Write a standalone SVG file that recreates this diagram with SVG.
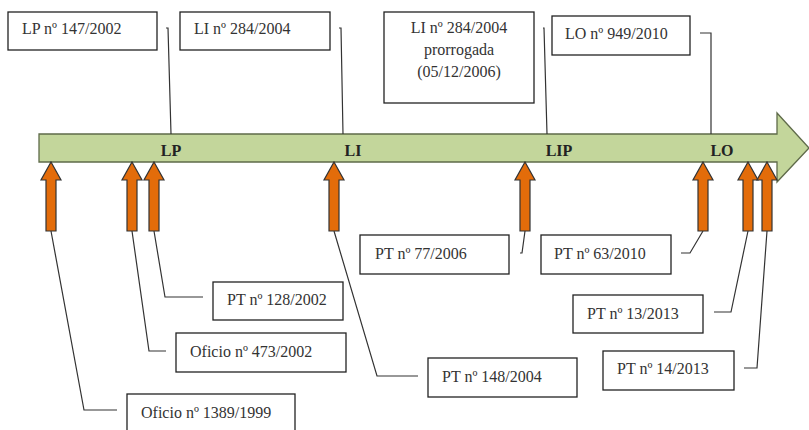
<svg xmlns="http://www.w3.org/2000/svg" width="809" height="430" viewBox="0 0 809 430">
<style>
.box{fill:#fff;stroke:#222;stroke-width:1.3}
.t{font-family:"Liberation Serif","Times New Roman",serif;font-size:16px;fill:#333}
.lbl{font-family:"Liberation Serif","Times New Roman",serif;font-size:16px;font-weight:bold;fill:#222}
.con{fill:none;stroke:#333;stroke-width:1.2}
.up{fill:#e36c0a;stroke:#333;stroke-width:1.2}
</style>
<defs>
<path id="upArrow" class="up" d="M0,0 L10,18 L5,18 L5,69 L-5,69 L-5,18 L-10,18 Z"/>
</defs>
<g id="timeline">
<path d="M39,134 L777,134 L777,113 L809,148 L777,182 L777,162 L39,162 Z" fill="#c3d69b" stroke="#5f6b4a" stroke-width="1.3"/>
<text class="lbl" x="171" y="156" text-anchor="middle">LP</text>
<text class="lbl" x="353" y="156" text-anchor="middle">LI</text>
<text class="lbl" x="559" y="156" text-anchor="middle">LIP</text>
<text class="lbl" x="722" y="156" text-anchor="middle">LO</text>
</g>
<g id="connectors">
<path class="con" d="M166,28 L168,28 L171,134"/>
<path class="con" d="M339,28 L341,28 L343,134"/>
<path class="con" d="M543,28 L544,28 L547,134"/>
<path class="con" d="M700,33 L711,33 L711,134"/>
<path class="con" d="M51,231 L84,410 L117,410"/>
<path class="con" d="M132,231 L149,351 L166,351"/>
<path class="con" d="M154,231 L165,297 L203,297"/>
<path class="con" d="M334,231 L377,376 L418,376"/>
<path class="con" d="M525,231 L522,253 L520,253"/>
<path class="con" d="M703,231 L690,253 L681,253"/>
<path class="con" d="M748,231 L731,312 L714,312"/>
<path class="con" d="M767,231 L757,368 L744,368"/>
</g>
<g id="arrows">
<use href="#upArrow" x="51" y="162"/>
<use href="#upArrow" x="132" y="162"/>
<use href="#upArrow" x="154" y="162"/>
<use href="#upArrow" x="334" y="162"/>
<use href="#upArrow" x="525" y="162"/>
<use href="#upArrow" x="703" y="162"/>
<use href="#upArrow" x="748" y="162"/>
<use href="#upArrow" x="767" y="162"/>
</g>
<g id="n-lp"><rect class="box" x="8" y="12" width="149" height="38"/><text class="t" x="22" y="34">LP nº 147/2002</text></g>
<g id="n-li"><rect class="box" x="180" y="12" width="150" height="38"/><text class="t" x="194" y="34">LI nº 284/2004</text></g>
<g id="n-lip"><rect class="box" x="384" y="12" width="150" height="91"/>
<text class="t" x="459" y="33" text-anchor="middle">LI nº 284/2004</text>
<text class="t" x="459" y="55" text-anchor="middle">prorrogada</text>
<text class="t" x="459" y="77" text-anchor="middle">(05/12/2006)</text></g>
<g id="n-lo"><rect class="box" x="552" y="16" width="138" height="39"/><text class="t" x="565" y="39">LO nº 949/2010</text></g>
<g id="n-pt77"><rect class="box" x="360" y="235" width="149" height="39"/><text class="t" x="375" y="259">PT nº 77/2006</text></g>
<g id="n-pt63"><rect class="box" x="541" y="235" width="130" height="39"/><text class="t" x="554" y="259">PT nº 63/2010</text></g>
<g id="n-pt128"><rect class="box" x="213" y="282" width="130" height="38"/><text class="t" x="227" y="305">PT nº 128/2002</text></g>
<g id="n-of473"><rect class="box" x="176" y="333" width="170" height="39"/><text class="t" x="190" y="357">Oficio nº 473/2002</text></g>
<g id="n-of1389"><rect class="box" x="127" y="394" width="168" height="40"/><text class="t" x="141" y="418">Oficio nº 1389/1999</text></g>
<g id="n-pt148"><rect class="box" x="428" y="358" width="149" height="39"/><text class="t" x="442" y="382">PT nº 148/2004</text></g>
<g id="n-pt13"><rect class="box" x="573" y="295" width="130" height="38"/><text class="t" x="587" y="319">PT nº 13/2013</text></g>
<g id="n-pt14"><rect class="box" x="603" y="351" width="131" height="39"/><text class="t" x="617" y="374">PT nº 14/2013</text></g>
</svg>
